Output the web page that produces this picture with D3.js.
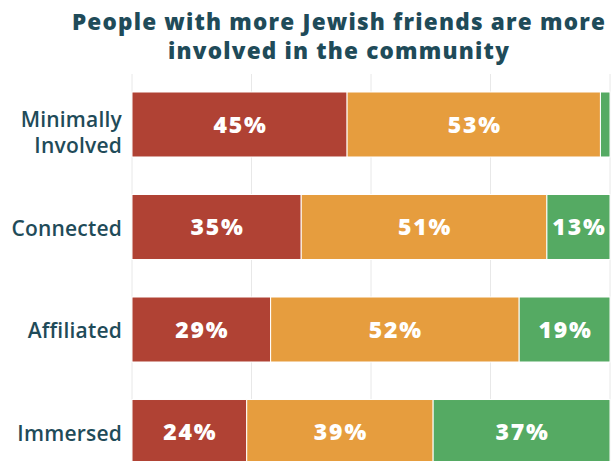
<!DOCTYPE html>
<html>
<head>
<meta charset="utf-8">
<script src="https://cdn.jsdelivr.net/npm/d3@7"></script>
<style>
  body { margin: 0; background: #fff; }
  svg { display: block; font-family: "Open Sans", sans-serif; }
</style>
</head>
<body>
<div id="chart"></div>
<script>
// data (share of each group, percent)
var categories = ["Minimally Involved", "Connected", "Affiliated", "Immersed"];
var seriesNames = ["Few", "Some", "Most"];
var few = [45, 35.4, 29, 24];
var some = [53, 51.4, 52, 39];
var most = [2, 13.2, 19, 37];
var gridTicks = [0, 25, 50, 75, 100];
var titleLines = ["People with more Jewish friends are more", "involved in the community"];

var colors = { Few: "#b04234", Some: "#e69d3e", Most: "#55aa63" };
var ink = "#1f4b59";

var width = 614, height = 461;

var svg = d3.select("#chart").append("svg")
    .attr("width", width)
    .attr("height", height);

var rows = categories.map(function (c, i) {
    return { cat: c, Few: few[i], Some: some[i], Most: most[i] };
});

var stack = d3.stack().keys(seriesNames)(rows);

var x = d3.scaleLinear().domain([0, 100]).range([132, 610]);
var y = d3.scaleBand().domain(categories)
    .range([71.5, 485])
    .paddingInner(0.366)
    .paddingOuter(0.2);

// title, one text with a tspan per line
svg.append("text")
    .attr("x", 339)
    .attr("y", 29.5)
    .attr("text-anchor", "middle")
    .attr("fill", ink)
    .attr("font-size", 22.5)
    .attr("font-weight", 800)
    .attr("letter-spacing", 1.2)
    .selectAll("tspan")
    .data(titleLines)
    .enter().append("tspan")
    .attr("x", 339)
    .attr("dy", function (d, i) { return i === 0 ? 0 : 29; })
    .text(function (d) { return d; });

// vertical grid
svg.append("g")
    .selectAll("line")
    .data(gridTicks)
    .enter().append("line")
    .attr("x1", function (d) { return x(d); })
    .attr("x2", function (d) { return x(d); })
    .attr("y1", 74)
    .attr("y2", height)
    .attr("stroke", "#e8e8e8")
    .attr("stroke-width", 1);

// bars
var layer = svg.append("g")
    .selectAll("g")
    .data(stack)
    .enter().append("g")
    .attr("fill", function (d) { return colors[d.key]; });

layer.selectAll("rect")
    .data(function (d) { return d; })
    .enter().append("rect")
    .attr("x", function (d) { return x(d[0]); })
    .attr("width", function (d) { return x(d[1]) - x(d[0]); })
    .attr("y", function (d) { return y(d.data.cat); })
    .attr("height", y.bandwidth())
    .attr("stroke", "#fff")
    .attr("stroke-width", 1);

// value labels
layer.selectAll("text")
    .data(function (d) { return d.filter(function (p) { return p[1] - p[0] >= 5; }); })
    .enter().append("text")
    .attr("x", function (d) { return (x(d[0]) + x(d[1])) / 2 + 1; })
    .attr("y", function (d) { return y(d.data.cat) + y.bandwidth() / 2; })
    .attr("dy", "0.36em")
    .attr("text-anchor", "middle")
    .attr("fill", "#fff")
    .attr("font-size", 23)
    .attr("font-weight", 800)
    .attr("letter-spacing", 1.8)
    .text(function (d) { return Math.round(d[1] - d[0]) + "%"; });

// category labels
var catLabel = svg.append("g")
    .selectAll("text")
    .data(categories)
    .enter().append("text")
    .attr("x", 122)
    .attr("y", function (d) { return y(d) + y.bandwidth() / 2; })
    .attr("text-anchor", "end")
    .attr("fill", ink)
    .attr("font-size", 21)
    .attr("font-weight", 600)
    .attr("letter-spacing", 0.2);

catLabel.each(function (d) {
    var words = d === "Minimally Involved" ? ["Minimally", "Involved"] : [d];
    var t = d3.select(this);
    words.forEach(function (w, i) {
        t.append("tspan")
            .attr("x", 122)
            .attr("dy", i === 0 ? (words.length > 1 ? "0.12em" : "0.42em") : "1.24em")
            .text(w);
    });
});
</script>
</body>
</html>
